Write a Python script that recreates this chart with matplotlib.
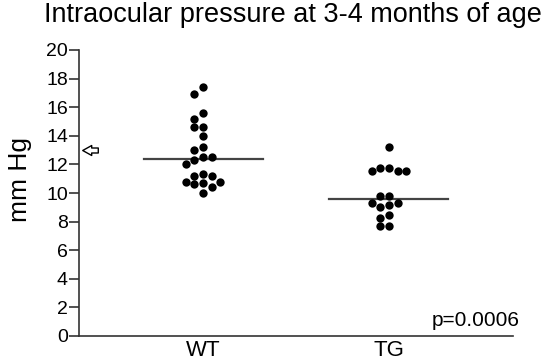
import numpy as np
import matplotlib
matplotlib.use("Agg")
from matplotlib import pyplot as plt
from matplotlib.path import Path

plt.rcParams['font.family'] = ['Liberation Sans', 'DejaVu Sans']

# data (mm Hg)
groups = ['WT', 'TG']
wt_values = [17.4, 16.9, 15.6, 15.2, 14.6, 14.6, 14.0, 13.2, 13.0, 12.5, 12.5,
             12.3, 12.0, 11.3, 11.2, 11.2, 10.8, 10.8, 10.7, 10.6, 10.4, 10.0]
tg_values = [13.2, 11.75, 11.75, 11.55, 11.55, 11.55, 9.8, 9.8, 9.3, 9.3,
             9.15, 9.05, 8.45, 8.25, 7.7, 7.7]
group_means = [12.4, 9.55]
normal_iop = 13.0
p_text = 'p=0.0006'
yticks = [0, 2, 4, 6, 8, 10, 12, 14, 16, 18, 20]


def swarm_offsets(values, px_per_unit, dot_px, step_px):
    # simple greedy beeswarm, returns offsets in pixels
    order = np.argsort(values)[::-1]
    placed = []
    offs = np.zeros(len(values))
    slots = [0]
    for k in range(1, 8):
        slots += [-k, k]
    for i in order:
        y = values[i] * px_per_unit
        for s in slots:
            x = s * step_px
            ok = all((x - px) ** 2 + (y - py) ** 2 >= (dot_px * 0.95) ** 2 for px, py in placed)
            if ok:
                placed.append((x, y))
                offs[i] = x
                break
    return offs


fig = plt.figure(figsize=(5.41, 3.63), dpi=100)
ax = fig.add_axes([79 / 541, 1 - 336 / 363, (513 - 79) / 541, (336 - 50) / 363])
ax.set_xlim(0.333, 2.667)
ax.set_ylim(0, 20)

px_per_unit_y = 286 / 20.0
px_per_unit_x = 186.0
for i, vals in enumerate([wt_values, tg_values]):
    offs = swarm_offsets(np.array(vals), px_per_unit_y, 8.0, 8.6) / px_per_unit_x
    ax.plot(i + 1 + offs, vals, 'o', color='black', markersize=6.0, markeredgewidth=0, zorder=3)
    ax.plot([i + 1 - 0.32, i + 1 + 0.32], [group_means[i]] * 2, color='#444444', lw=1.6, zorder=2)

# open arrow marking normal pressure
verts = [(-7.8, 0), (1.2, 5), (1.2, 2.5), (7.8, 2.5), (7.8, -2.5), (1.2, -2.5), (1.2, -5), (-7.8, 0)]
codes = [Path.MOVETO] + [Path.LINETO] * 6 + [Path.CLOSEPOLY]
arrow = Path(verts, codes)
ax.plot([0.025], [normal_iop], marker=arrow, markersize=11.2, markerfacecolor='white',
        markeredgecolor='black', markeredgewidth=1.0, transform=ax.get_yaxis_transform(),
        clip_on=False)

ax.spines['top'].set_visible(False)
ax.spines['right'].set_visible(False)
for sp in ['left', 'bottom']:
    ax.spines[sp].set_color('#333333')
    ax.spines[sp].set_linewidth(1.2)

ax.set_yticks(yticks)
ax.set_yticklabels([str(t) for t in yticks])
ax.tick_params(axis='y', length=7, width=1.2, color='#333333', labelsize=14, pad=1)
ax.set_xticks([1, 2])
ax.set_xticklabels(groups)
ax.tick_params(axis='x', length=0, labelsize=16, pad=3)

ax.set_ylabel('mm Hg', fontsize=19)
ax.yaxis.set_label_coords(-0.108, 0.547)
fig.text(0.541, 0.958, 'Intraocular pressure at 3-4 months of age', ha='center', va='center', fontsize=19.5)
ax.text(1.016, 0.035, p_text, transform=ax.transAxes, ha='right', va='baseline', fontsize=15)

fig.savefig('out.png', dpi=100)
